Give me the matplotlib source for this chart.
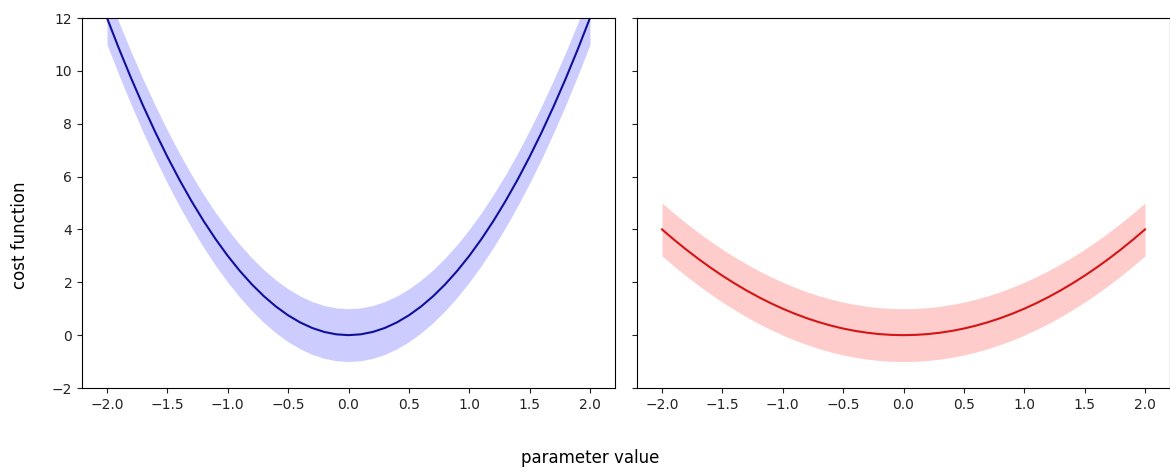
"""
Two cost-function curves with an uncertainty band, side by side with a shared y axis.
"""
import matplotlib
matplotlib.use('Agg')
import matplotlib.pyplot as plt
import numpy as np

# Parameter values along the x axis
param_values = [-2.0, -1.9, -1.8, -1.7, -1.6, -1.5, -1.4, -1.3, -1.2, -1.1,
                -1.0, -0.9, -0.8, -0.7, -0.6, -0.5, -0.4, -0.3, -0.2, -0.1,
                0.0, 0.1, 0.2, 0.3, 0.4, 0.5, 0.6, 0.7, 0.8, 0.9,
                1.0, 1.1, 1.2, 1.3, 1.4, 1.5, 1.6, 1.7, 1.8, 1.9, 2.0]

# Left panel: steep cost curve
cost_steep = [12.0, 10.83, 9.72, 8.67, 7.68, 6.75, 5.88, 5.07, 4.32, 3.63,
              3.0, 2.43, 1.92, 1.47, 1.08, 0.75, 0.48, 0.27, 0.12, 0.03,
              0.0, 0.03, 0.12, 0.27, 0.48, 0.75, 1.08, 1.47, 1.92, 2.43,
              3.0, 3.63, 4.32, 5.07, 5.88, 6.75, 7.68, 8.67, 9.72, 10.83, 12.0]

# Right panel: shallow cost curve
cost_shallow = [4.0, 3.61, 3.24, 2.89, 2.56, 2.25, 1.96, 1.69, 1.44, 1.21,
                1.0, 0.81, 0.64, 0.49, 0.36, 0.25, 0.16, 0.09, 0.04, 0.01,
                0.0, 0.01, 0.04, 0.09, 0.16, 0.25, 0.36, 0.49, 0.64, 0.81,
                1.0, 1.21, 1.44, 1.69, 1.96, 2.25, 2.56, 2.89, 3.24, 3.61, 4.0]

# Half width of the shaded band
band_halfwidth = 1.0


def draw_panel(ax, x, y, line_color, fill_color):
    x = np.array(x)
    y = np.array(y)
    ax.fill_between(x, y - band_halfwidth, y + band_halfwidth,
                    color=fill_color, alpha=0.2, linewidth=0)
    ax.plot(x, y, color=line_color, linewidth=1.5)
    ax.set_xticks([-2.0, -1.5, -1.0, -0.5, 0.0, 0.5, 1.0, 1.5, 2.0])


fig = plt.figure(figsize=(11.7, 4.71), dpi=100)
W, H = 1170.0, 471.0
bottom = (H - 388) / H
height = 370 / H
ax_left = fig.add_axes([82 / W, bottom, 533 / W, height])
ax_right = fig.add_axes([637 / W, bottom, 533 / W, height], sharey=ax_left)

draw_panel(ax_left, param_values, cost_steep, '#10109a', 'blue')
draw_panel(ax_right, param_values, cost_shallow, '#d41515', 'red')

ax_left.set_ylim(-2, 12)
ax_left.set_xlim(-2.207, 2.207)
ax_right.set_xlim(-2.207, 2.207)
plt.setp(ax_right.get_yticklabels(), visible=False)

for ax in (ax_left, ax_right):
    ax.tick_params(labelsize=10, colors='#222222')

fig.text(20 / W, 1 - 235 / H, 'cost function', rotation=90,
         ha='center', va='center', fontsize=12)
fig.text(590 / W, 1 - 458 / H, 'parameter value',
         ha='center', va='center', fontsize=12)

fig.savefig('out.png', dpi=100)
